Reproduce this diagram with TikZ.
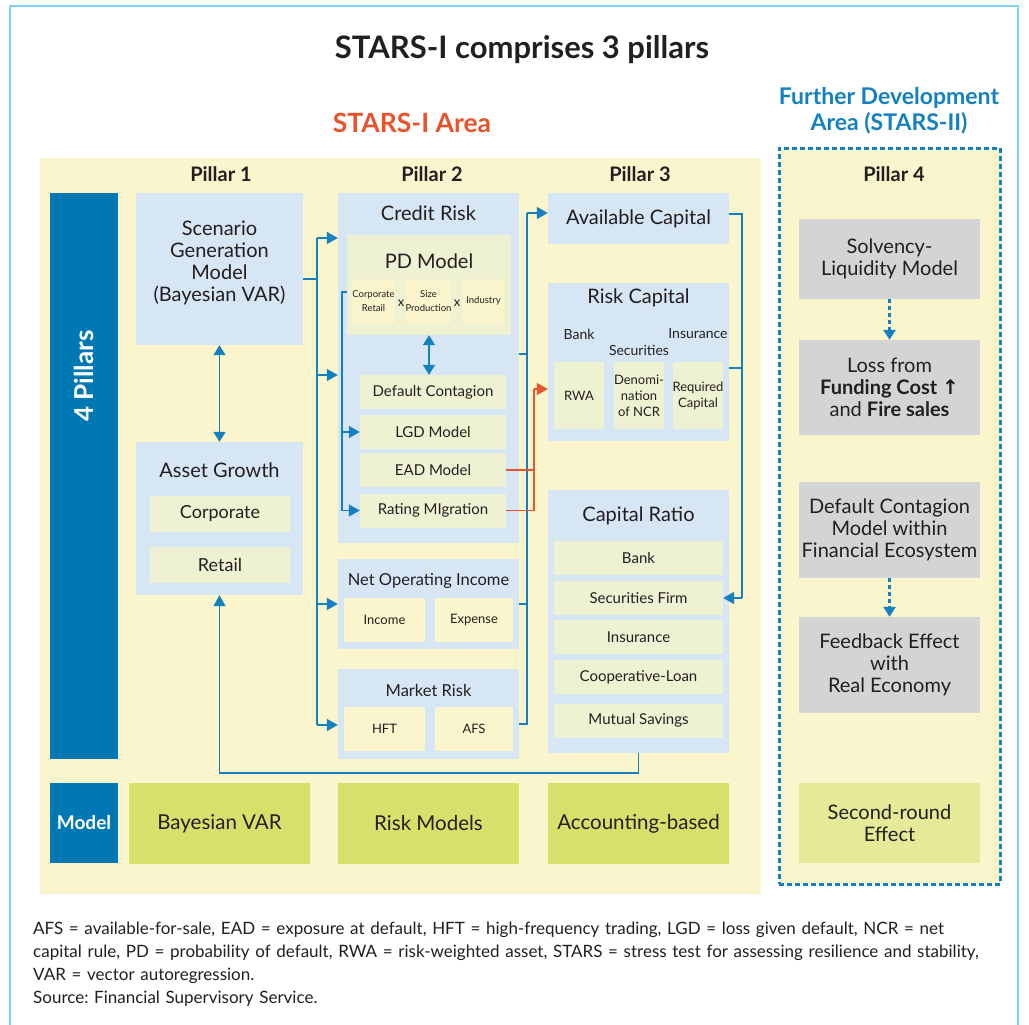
\documentclass[tikz,border=0pt]{standalone}
\usepackage{fontspec}
\setmainfont{Lato}
\newfontfamily\symfont{DejaVu Sans}
\usepackage{tikz}
\usetikzlibrary{positioning,calc,arrows.meta,backgrounds}
\frenchspacing

\definecolor{areayellow}{HTML}{FAF5CC}
\definecolor{boxblue}{HTML}{D6E6F5}
\definecolor{boxgreen}{HTML}{EEF2D2}
\definecolor{pillarblue}{HTML}{0078B4}
\definecolor{linkblue}{HTML}{1580C0}
\definecolor{linkred}{HTML}{E8532B}
\definecolor{modelgreen}{HTML}{D6E06A}
\definecolor{roundgreen}{HTML}{E5EA98}
\definecolor{boxgrey}{HTML}{D3D4D6}
\definecolor{framecyan}{HTML}{7DD3F2}
\definecolor{inkblack}{HTML}{231F20}

\begin{document}
\begin{tikzpicture}[x=1pt,y=-1pt,
  every node/.style={text=inkblack, inner sep=0pt, align=center},
  panel/.style={fill=boxblue},
  cell/.style={fill=boxgreen},
  pale/.style={fill=areayellow},
  greybox/.style={fill=boxgrey},
  modelbox/.style={fill=modelgreen, minimum width=181, minimum height=81, font=\fontsize{20.5}{24}\selectfont},
  darkbox/.style={fill=pillarblue, text=white, font=\fontsize{19}{22}\selectfont\bfseries},
  pillarhead/.style={font=\fontsize{20}{24}\selectfont\bfseries},
  big/.style={font=\fontsize{20}{22}\selectfont},
  med/.style={font=\fontsize{18}{22}\selectfont},
  mid/.style={font=\fontsize{15}{18}\selectfont},
  small/.style={font=\fontsize{13}{16}\selectfont},
  tiny/.style={font=\fontsize{9.5}{14}\selectfont},
  conn/.style={draw=linkblue, line width=1.5pt},
  arr/.style={conn, -{Triangle[width=12pt,length=11pt]}},
  darr/.style={conn, {Triangle[width=12pt,length=10pt]}-{Triangle[width=12pt,length=10pt]}},
  redconn/.style={draw=linkred, line width=1.5pt},
  redarr/.style={redconn, -{Triangle[width=12pt,length=11pt]}},
  dotarr/.style={draw=linkblue, line width=2.5pt, dash pattern=on 4pt off 3pt, -{Triangle[width=12pt,length=10pt]}}]

\useasboundingbox (0,0) rectangle (1029,1025);
\fill[white] (0,0) rectangle (1029,1025);
\draw[framecyan, line width=1.2pt] (10,1030) |- (1018,6) -- (1018,1030);

% headings
\node[font=\fontsize{31}{36}\selectfont\bfseries] (title) at (522,50) {STARS-I comprises 3 pillars};
\node[text=linkred, font=\fontsize{26.5}{30}\selectfont\bfseries] (areaI) at (412,123) {STARS-I Area};
\node[text=linkblue, font=\fontsize{23}{26}\selectfont\bfseries] (areaII) at (889,111) {Further Development\\Area (STARS-II)};

% the two areas
\node[pale, minimum width=721, minimum height=736] (area) at (400.5,526) {};
\node[pale, draw=linkblue, line width=3pt, dash pattern=on 5pt off 3pt, minimum width=221, minimum height=736] (area4) at (889.5,516) {};

\node[pillarhead] (p1) at (221,174) {Pillar 1};
\node[pillarhead] (p2) at (432,174) {Pillar 2};
\node[pillarhead] (p3) at (640,174) {Pillar 3};
\node[pillarhead] (p4) at (894,174) {Pillar 4};

% left column
\node[darkbox, minimum width=68, minimum height=566] (bar) at (84,476) {};
\node[darkbox, rotate=90, font=\fontsize{26}{30}\selectfont\bfseries] (barT) at (84,376) {4 Pillars};
\node[darkbox, minimum width=68, minimum height=80] (modelT) at (84,823) {Model};

% pillar 1
\node[panel, minimum width=167, minimum height=152] (scen) at (219.5,269) {};
\node[big] (scenT) at (219.5,263) {Scenario\\Generation\\Model\\(Bayesian VAR)};
\node[panel, minimum width=167, minimum height=153] (asset) at (219.5,518.5) {};
\node[big] (assetT) at (219.5,470) {Asset Growth};
\node[cell, med, minimum width=140, minimum height=36] (corp) at (220,514) {Corporate};
\node[cell, med, minimum width=140, minimum height=36] (retail) at (220,565) {Retail};
\node[modelbox] (bvar) at (219.5,823.5) {Bayesian VAR};

% pillar 2
\node[panel, minimum width=181, minimum height=350] (credit) at (428.5,368) {};
\node[big] (creditT) at (428.5,213) {Credit Risk};
\node[cell, minimum width=164, minimum height=100] (pd) at (429,285) {};
\node[big] (pdT) at (429,261) {PD Model};
\node[pale, tiny, minimum width=41, minimum height=44] (pdcorp) at (373.5,301) {Corporate\\Retail};
\node[pale, tiny, minimum width=41, minimum height=44] (pdsize) at (428.5,301) {Size\\Production};
\node[pale, tiny, minimum width=41, minimum height=44] (pdind) at (483.5,301) {Industry};
\node[small] (x1) at (401,303) {x};
\node[small] (x2) at (457,303) {x};
\node[cell, mid, minimum width=146, minimum height=34] (dc) at (433,392) {Default Contagion};
\node[cell, mid, minimum width=146, minimum height=34] (lgd) at (433,432) {LGD Model};
\node[cell, mid, minimum width=146, minimum height=34] (ead) at (433,470) {EAD Model};
\node[cell, mid, minimum width=146, minimum height=34] (rm) at (433,510.5) {Rating MIgration};

\node[panel, minimum width=181, minimum height=90] (noi) at (428.5,604) {};
\node[font=\fontsize{16.5}{20}\selectfont] (noiT) at (428.5,581) {Net Operating Income};
\node[pale, small, minimum width=81, minimum height=44] (income) at (384.5,620) {Income};
\node[pale, small, minimum width=78, minimum height=44] (expense) at (474,620) {Expense};
\node[panel, minimum width=181, minimum height=90] (market) at (428.5,714) {};
\node[font=\fontsize{16.5}{20}\selectfont] (marketT) at (428.5,690) {Market Risk};
\node[pale, small, minimum width=81, minimum height=44] (hft) at (384.5,729) {HFT};
\node[pale, small, minimum width=78, minimum height=44] (afs) at (474,729) {AFS};
\node[modelbox] (riskm) at (428.5,823.5) {Risk Models};

% pillar 3
\node[panel, big, minimum width=181, minimum height=51] (avail) at (638.5,218.5) {Available Capital};
\node[panel, minimum width=181, minimum height=158] (rcap) at (638.5,362) {};
\node[big] (rcapT) at (638.5,298) {Risk Capital};
\node[font=\fontsize{14}{17}\selectfont] (bankL) at (579,334) {Bank};
\node[font=\fontsize{14}{17}\selectfont] (secL) at (639,350) {Securities};
\node[font=\fontsize{14}{17}\selectfont] (insL) at (698,334) {Insurance};
\node[cell, small, minimum width=50, minimum height=67] (rwa) at (579,395.5) {RWA};
\node[cell, small, minimum width=50, minimum height=67] (ncr) at (639,395.5) {Denomi-\\nation\\of NCR};
\node[cell, small, minimum width=50, minimum height=67] (reqc) at (698,395.5) {Required\\Capital};

\node[panel, minimum width=181, minimum height=263] (cratio) at (638.5,621.5) {};
\node[big] (cratioT) at (638.5,516) {Capital Ratio};
\node[cell, mid, minimum width=169, minimum height=34] (crbank) at (638.5,558) {Bank};
\node[cell, mid, minimum width=169, minimum height=34] (crsec) at (638.5,598) {Securities Firm};
\node[cell, mid, minimum width=169, minimum height=34] (crins) at (638.5,637) {Insurance};
\node[cell, mid, minimum width=169, minimum height=34] (crcoop) at (638.5,677) {Cooperative-Loan};
\node[cell, mid, minimum width=169, minimum height=34] (crmut) at (638.5,720.5) {Mutual Savings};
\node[modelbox] (acct) at (638.5,823.5) {Accounting-based};

% pillar 4
\node[greybox, big, minimum width=181, minimum height=80] (solv) at (889.5,259) {Solvency-\\Liquidity Model};
\node[greybox, big, minimum width=181, minimum height=95] (loss) at (889.5,387.5) {Loss from\\\textbf{Funding Cost {\symfont ↑}}\\and \textbf{Fire sales}};
\node[greybox, big, minimum width=181, minimum height=96] (dcm) at (889.5,530) {Default Contagion\\Model within\\Financial Ecosystem};
\node[greybox, big, minimum width=181, minimum height=96] (feed) at (889.5,665) {Feedback Effect\\with\\Real Economy};
\node[fill=roundgreen, big, minimum width=181, minimum height=80] (second) at (889.5,823) {Second-round\\Effect};

% connectors
\draw[darr] (scen.south) -- (asset.north);
\draw[darr] (pd.south) -- (dc.north -| pd.south);

\coordinate (lbTop) at (317,238);
\coordinate (lbBot) at (317,725);
\coordinate (cr2) at ([yshift=-7pt]credit.west);
\draw[conn] ([yshift=-10pt]scen.east) -| (lbTop);
\draw[conn] ([yshift=-10pt]scen.east) -| (lbBot);
\draw[arr] (lbTop) -- (lbTop -| credit.west);
\draw[arr] (lbTop |- cr2) -- (cr2);
\draw[arr] (lbTop |- noi.west) -- (noi.west);
\draw[arr] (lbBot) -- (lbBot -| market.west);

\coordinate (cb) at (342,292);
\draw[conn] (pd.west |- cb) -- (cb) -- (cb |- rm.west);
\draw[arr] (cb |- lgd.west) -- (lgd.west);
\draw[arr] (cb |- rm.west) -- (rm.west);

\coordinate (rbTop) at (527,213);
\coordinate (crOut) at ([yshift=14pt]credit.east);
\draw[conn] ([yshift=-10pt]market.east) -| (rbTop);
\draw[arr] (rbTop) -- (rbTop -| avail.west);
\draw[conn] (crOut) -- (rbTop |- crOut);
\draw[conn] (noi.east) -- (rbTop |- noi.east);

\coordinate (redTop) at (534,389);
\draw[redconn] (rm.east) -| (redTop);
\draw[redconn] (ead.east) -- (ead.east -| redTop);
\draw[redarr] (redTop) -- (redTop -| rcap.west);

\coordinate (p3bus) at (742,214);
\coordinate (rcOut) at ([yshift=-6pt]rcap.east);
\draw[conn] (avail.east |- p3bus) -- (p3bus) -- (p3bus |- crsec.east);
\draw[conn] (rcOut) -- (p3bus |- rcOut);
\draw[arr] (p3bus |- crsec.east) -- (crsec.east);

\draw[arr] (cratio.south) -- ++(0,20) -| (asset.south);

\draw[dotarr] (solv.south) -- (loss.north);
\draw[dotarr] (dcm.south) -- (feed.north);

% notes
\node[anchor=north west, align=left, text width=985, font=\fontsize{17}{23}\selectfont] (notes) at (33,922)
{AFS = available-for-sale, EAD = exposure at default, HFT = high-frequency trading, LGD = loss given default, NCR = net\\
capital rule, PD = probability of default, RWA = risk-weighted asset, STARS = stress test for assessing resilience and stability,\\
VAR = vector autoregression.\\
Source: Financial Supervisory Service.};

\end{tikzpicture}
\end{document}
